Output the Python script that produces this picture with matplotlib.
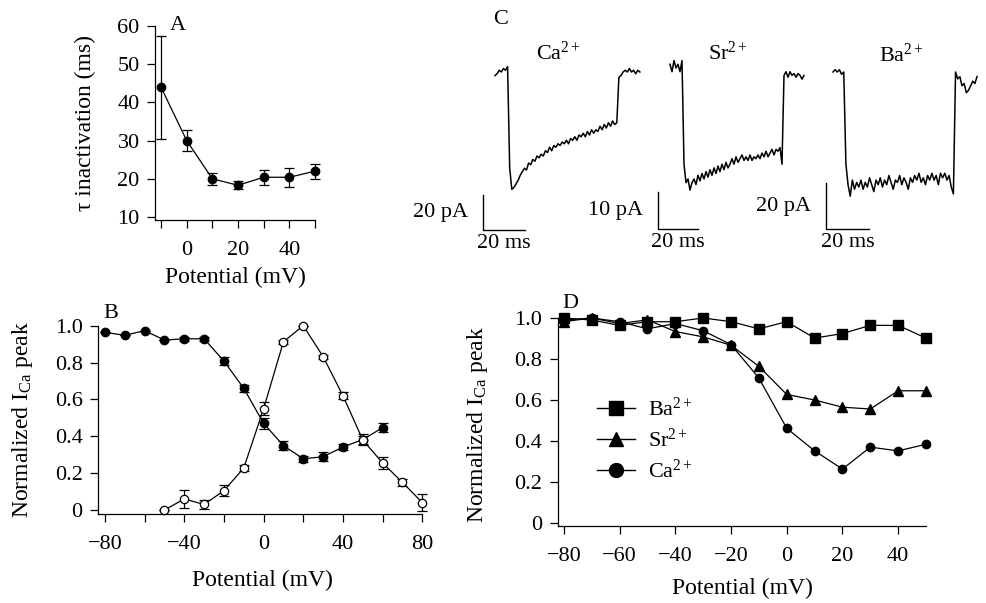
import numpy as np
import matplotlib
matplotlib.use("Agg")
import matplotlib.pyplot as plt
from matplotlib.lines import Line2D

plt.rcParams['font.family'] = ['Liberation Serif', 'DejaVu Serif']
plt.rcParams['mathtext.fontset'] = 'custom'
plt.rcParams['mathtext.rm'] = 'Liberation Serif'
plt.rcParams['mathtext.it'] = 'Liberation Serif:italic'
plt.rcParams['mathtext.bf'] = 'Liberation Serif:bold'

W, H = 986, 603
FS = 16

# ---- panel A: inactivation time constant
a_mv = [-10, 0, 10, 20, 30, 40, 50]
a_tau = [44.0, 30.0, 20.0, 18.3, 20.4, 20.4, 22.0]
a_err = [13.5, 2.8, 1.6, 1.0, 2.0, 2.5, 2.0]

# ---- panel B: inactivation (filled) and activation (open)
b_inact_mv = [-80, -70, -60, -50, -40, -30, -20, -10, 0, 10, 20, 30, 40, 50, 60]
b_inact = [0.964, 0.948, 0.973, 0.922, 0.929, 0.929, 0.808, 0.66, 0.47,
           0.349, 0.278, 0.289, 0.342, 0.382, 0.447]
b_inact_err = [0, 0, 0, 0, 0.01, 0.01, 0.02, 0.02, 0.03, 0.025, 0.015,
               0.025, 0.015, 0.03, 0.025]
b_act_mv = [-50, -40, -30, -20, -10, 0, 10, 20, 30, 40, 50, 60, 70, 80]
b_act = [0.0, 0.06, 0.03, 0.105, 0.228, 0.55, 0.913, 1.0, 0.832, 0.62,
         0.38, 0.255, 0.15, 0.04]
b_act_err = [0.0, 0.05, 0.025, 0.03, 0.015, 0.035, 0.012, 0.0, 0.01, 0.02,
             0.02, 0.03, 0.02, 0.045]

# ---- panel C: current traces (1 ms samples, pA)
ca_trace = [-2, -1, 1, 0, 2, 1, 3, -55, -67, -66, -64, -62, -59, -57, -55,
            -56, -52, -53, -50, -51, -48, -49, -47, -48, -45, -46, -43, -45,
            -42, -43, -41, -42, -40, -41, -39, -41, -38, -39, -37, -39, -36,
            -37, -35, -37, -34, -36, -33, -35, -33, -34, -31, -33, -30, -32,
            -29, -31, -28, -30, -29, -3, -2, 0, 1, 0, 2, 0, 1, -1, 1, 0]
sr_trace = [1, -1, 2, 0, 1, -1, 2, -26, -31, -30, -33, -31, -30, -31.5, -29,
            -30.5, -28.5, -30, -28, -29.5, -27.5, -29, -27, -28.5, -26.5, -28,
            -26, -27.5, -25.5, -27, -26, -24.5, -26, -24, -25.5, -24.5, -23.5,
            -25, -24, -25, -23.5, -25, -24, -24.5, -23.5, -24.5, -23, -24,
            -22.5, -24, -23, -22, -23.5, -22, -22.5, -21.5, -26, -2, -1, -2.5,
            -1, -2, -1.5, -2.5, -1.5, -2, -3, -2]
ba_trace = [0, 1, 0, 1, -1, 0, -40, -49, -54, -47, -51, -48, -50, -47, -51,
            -48, -50, -46, -49, -52, -47, -49, -46, -50, -47, -49, -45, -48,
            -51, -47, -48, -45, -49, -46, -48, -51, -46, -48, -45, -47, -44,
            -48, -46, -49, -45, -47, -44, -47, -45, -49, -44, -46, -44, -47,
            -45, -50, -53, 0, -3, -2, -6, -5, -9, -8, -6, -4, -5, -2]

# ---- panel D: normalized peak vs potential for three ions
d_mv = [-80, -70, -60, -50, -40, -30, -20, -10, 0, 10, 20, 30, 40, 50]
d_ba = [1.0, 0.99, 0.964, 0.982, 0.982, 1.0, 0.982, 0.947, 0.982, 0.902,
        0.924, 0.964, 0.964, 0.902]
d_sr = [0.982, 1.0, 0.973, 0.991, 0.934, 0.908, 0.867, 0.764, 0.627, 0.60,
        0.565, 0.556, 0.645, 0.645]
d_ca = [0.99, 1.0, 0.982, 0.947, 0.973, 0.938, 0.87, 0.707, 0.462, 0.352,
        0.263, 0.37, 0.352, 0.384]

fig = plt.figure(figsize=(W / 100, H / 100), dpi=100)


def px_axes(left, top, right, bottom):
    return fig.add_axes([left / W, 1 - bottom / H, (right - left) / W,
                         (bottom - top) / H])


def fpt(x, y):
    return x / W, 1 - y / H


def style(ax):
    for s in ("top", "right"):
        ax.spines[s].set_visible(False)
    for s in ("left", "bottom"):
        ax.spines[s].set_linewidth(0.9)
    ax.tick_params(direction="out", length=6, width=0.9, labelsize=FS)
    ax.tick_params(axis="x", pad=9)
    ax.tick_params(axis="y", pad=5)


# ---------------- A
ax_a = px_axes(155, 26, 315, 220)
style(ax_a)
ax_a.errorbar(a_mv, a_tau, yerr=a_err, color="k", lw=0.9, marker="o", ms=6,
              capsize=3.5, elinewidth=0.9, capthick=0.9, clip_on=False)
ax_a.set_xlim(-12.34, 50)
ax_a.set_ylim(9.21, 60)
ax_a.set_xticks(a_mv)
ax_a.set_xticklabels(["", "0", "", "20", "", "40", ""])
ax_a.set_yticks([10, 20, 30, 40, 50, 60])
ax_a.set_ylabel("τ inactivation (ms)", fontsize=17)
ax_a.yaxis.set_label_coords(*fpt(85, 123), transform=fig.transFigure)
ax_a.set_xlabel("Potential (mV)", fontsize=17)
ax_a.xaxis.set_label_coords(*fpt(235, 277), transform=fig.transFigure)
ax_a.xaxis.label.set_va("center")
ax_a.yaxis.label.set_va("center")

# ---------------- B
ax_b = px_axes(98, 325.7, 422.3, 514)
style(ax_b)
ax_b.errorbar(b_inact_mv, b_inact, yerr=b_inact_err, color="k", lw=0.9,
              marker="o", ms=6, capsize=3.5, elinewidth=0.9, capthick=0.9,
              clip_on=False)
ax_b.errorbar(b_act_mv, b_act, yerr=b_act_err, color="k", lw=0.9,
              marker="o", ms=6, mfc="white", mec="k", mew=0.9, capsize=3.5,
              elinewidth=0.9, capthick=0.9, clip_on=False)
ax_b.set_xlim(-83.5, 80)
ax_b.set_ylim(-0.0217, 1.0)
ax_b.set_xticks(range(-80, 81, 20))
ax_b.set_xticklabels(["\u221280", "", "\u221240", "", "0", "", "40", "", "80"])
ax_b.set_yticks([0, 0.2, 0.4, 0.6, 0.8, 1.0])
ax_b.set_yticklabels(["0", "0.2", "0.4", "0.6", "0.8", "1.0"])
ax_b.set_ylabel(r"Normalized I$_{\mathrm{Ca}}$ peak", fontsize=17)
ax_b.yaxis.set_label_coords(*fpt(23, 420), transform=fig.transFigure)
ax_b.set_xlabel("Potential (mV)", fontsize=17)
ax_b.xaxis.set_label_coords(*fpt(262, 580), transform=fig.transFigure)
ax_b.xaxis.label.set_va("center")
ax_b.yaxis.label.set_va("center")

# ---------------- D
ax_d = px_axes(557.5, 318, 926, 526)
style(ax_d)
ax_d.plot(d_mv, d_ba, color="k", lw=0.9, marker="s", ms=6.5, clip_on=False)
ax_d.plot(d_mv, d_sr, color="k", lw=0.9, marker="^", ms=7, clip_on=False)
ax_d.plot(d_mv, d_ca, color="k", lw=0.9, marker="o", ms=6, clip_on=False)
ax_d.set_xlim(-82.3, 50)
ax_d.set_ylim(-0.0146, 1.0)
ax_d.set_xticks(range(-80, 41, 20))
ax_d.set_xticklabels(["\u221280", "\u221260", "\u221240", "\u221220", "0",
                      "20", "40"])
ax_d.set_yticks([0, 0.2, 0.4, 0.6, 0.8, 1.0])
ax_d.set_yticklabels(["0", "0.2", "0.4", "0.6", "0.8", "1.0"])
ax_d.set_ylabel(r"Normalized I$_{\mathrm{Ca}}$ peak", fontsize=17)
ax_d.yaxis.set_label_coords(*fpt(478, 425), transform=fig.transFigure)
ax_d.set_xlabel("Potential (mV)", fontsize=17)
ax_d.xaxis.set_label_coords(*fpt(742, 588), transform=fig.transFigure)
ax_d.xaxis.label.set_va("center")
ax_d.yaxis.label.set_va("center")

handles = [Line2D([], [], color="k", lw=1, marker="s", ms=10),
           Line2D([], [], color="k", lw=1, marker="^", ms=10),
           Line2D([], [], color="k", lw=1, marker="o", ms=10)]
ax_d.legend(handles, [r"Ba$^{2+}$", r"Sr$^{2+}$", r"Ca$^{2+}$"],
            loc="upper left", bbox_to_anchor=fpt(597, 398),
            bbox_transform=fig.transFigure, frameon=False, fontsize=FS,
            handlelength=1.7, handletextpad=0.6, labelspacing=0.35,
            borderpad=0, borderaxespad=0)


# ---------------- C: traces with scale bars
def trace_panel(values, x0, sx, y0, sy, box, bar_corner, bar_pa, pa_text,
                ion_text, ion_xy):
    left, top, right, bottom = box
    ax = px_axes(left, top, right, bottom)
    ax.set_xlim((left - x0) / sx, (right - x0) / sx)
    ax.set_ylim(-(bottom - y0) / sy, -(top - y0) / sy)
    ax.axis("off")
    ax.patch.set_alpha(0)
    t = np.arange(len(values))
    ax.plot(t, values, color="k", lw=1.1)
    bt, bp = bar_corner
    ax.plot([bt, bt, bt + 20], [bp + bar_pa, bp, bp], color="k", lw=1.0,
            clip_on=False)
    ax.annotate(pa_text, (bt, bp + bar_pa / 2), xytext=(-11, 0),
                textcoords="offset points", ha="right", va="center",
                fontsize=FS)
    ax.annotate("20 ms", (bt + 10, bp), xytext=(0, -3),
                textcoords="offset points", ha="center", va="top",
                fontsize=FS)
    fig.text(*fpt(*ion_xy), ion_text, ha="center", va="center", fontsize=FS)
    return ax


trace_panel(ca_trace, 495, 2.1, 72, 1.75, (470, 40, 650, 240),
            (-5.7, -90.3), 20, "20 pA", r"Ca$^{2+}$", (558, 53))
trace_panel(sr_trace, 670, 2.0, 68, 3.7, (640, 40, 815, 240),
            (-6.0, -43.5), 10, "10 pA", r"Sr$^{2+}$", (728, 53))
trace_panel(ba_trace, 833, 2.15, 72, 2.3, (805, 40, 985, 240),
            (-3.26, -68.3), 20, "20 pA", r"Ba$^{2+}$", (901, 55))

# panel letters
for letter, xy in [("A", (178, 25)), ("B", (111, 313)), ("C", (501, 20)),
                   ("D", (570, 303))]:
    fig.text(*fpt(*xy), letter, ha="center", va="center", fontsize=FS)

fig.savefig("out.png", dpi=100)
